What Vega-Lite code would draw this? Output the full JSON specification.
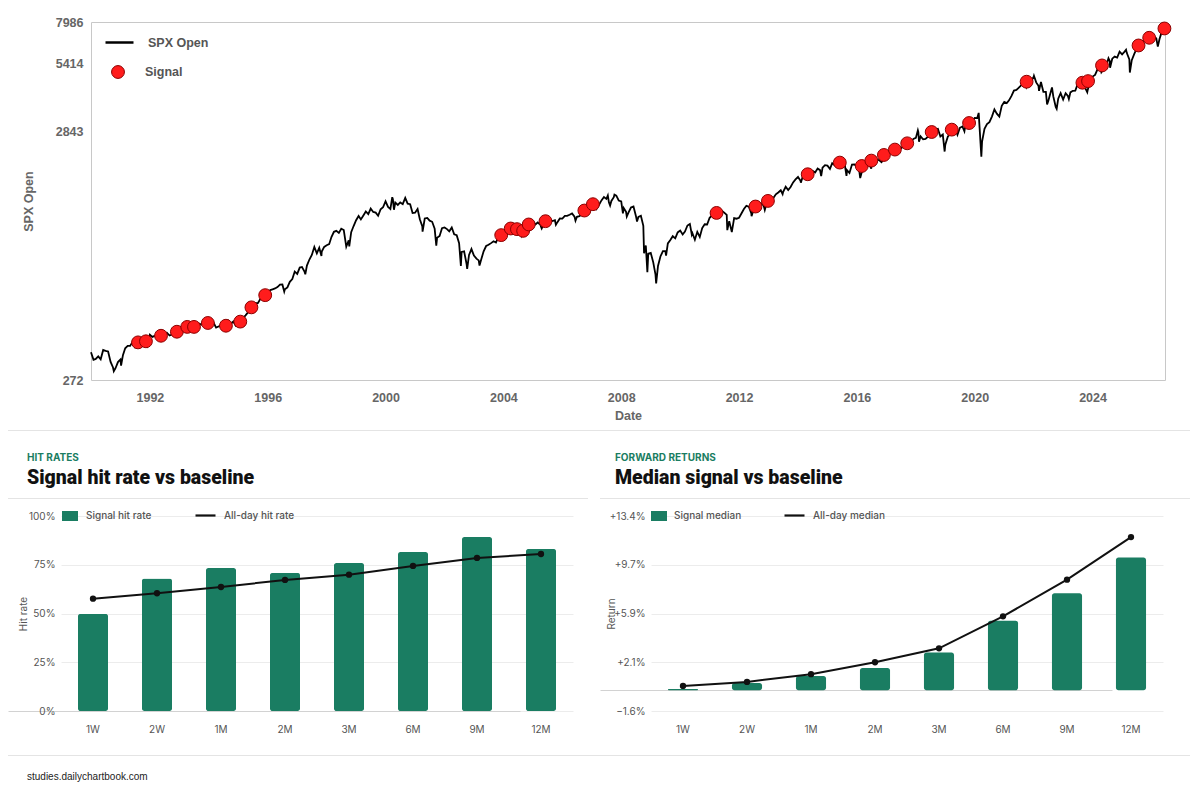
{
  "$schema": "https://vega.github.io/schema/vega-lite/v6.json",
  "background": "white",
  "padding": {"left": 8, "top": 16, "right": 10, "bottom": 8},
  "config": {
    "view": {"stroke": null},
    "font": "Inter",
    "axis": {"labelFont": "Inter", "titleFont": "Inter"},
    "legend": {"labelFont": "Inter"}
  },
  "datasets": {
    "spx": [
      {"d":"1990-01-01","v":353.4},{"d":"1990-02-01","v":329.1},{"d":"1990-03-01","v":331.9},{"d":"1990-04-01","v":339.9},{"d":"1990-05-01","v":330.8},{"d":"1990-06-01","v":361.2},{"d":"1990-07-01","v":358.0},{"d":"1990-08-01","v":356.2},{"d":"1990-09-01","v":322.6},{"d":"1990-10-01","v":306.1},{"d":"1990-10-11","v":295.5},{"d":"1990-11-01","v":304.0},{"d":"1990-12-01","v":322.2},
      {"d":"1991-01-01","v":330.2},{"d":"1991-01-09","v":311.5},{"d":"1991-02-01","v":343.9},{"d":"1991-03-01","v":367.1},{"d":"1991-04-01","v":375.2},{"d":"1991-05-01","v":375.3},{"d":"1991-06-01","v":389.8},{"d":"1991-07-01","v":371.2},{"d":"1991-08-01","v":387.8},{"d":"1991-09-01","v":395.4},{"d":"1991-10-01","v":387.9},{"d":"1991-11-01","v":392.5},{"d":"1991-12-01","v":375.2},
      {"d":"1992-01-01","v":417.1},{"d":"1992-02-01","v":408.8},{"d":"1992-03-01","v":412.7},{"d":"1992-04-01","v":403.7},{"d":"1992-05-01","v":415.0},{"d":"1992-06-01","v":415.4},{"d":"1992-07-01","v":408.1},{"d":"1992-08-01","v":424.2},{"d":"1992-09-01","v":414.0},{"d":"1992-10-01","v":417.8},{"d":"1992-11-01","v":418.7},{"d":"1992-12-01","v":431.4},
      {"d":"1993-01-01","v":435.7},{"d":"1993-02-01","v":438.8},{"d":"1993-03-01","v":443.4},{"d":"1993-04-01","v":451.7},{"d":"1993-05-01","v":440.2},{"d":"1993-06-01","v":450.2},{"d":"1993-07-01","v":450.5},{"d":"1993-08-01","v":448.1},{"d":"1993-09-01","v":463.6},{"d":"1993-10-01","v":458.9},{"d":"1993-11-01","v":467.8},{"d":"1993-12-01","v":461.8},
      {"d":"1994-01-01","v":466.5},{"d":"1994-02-01","v":481.6},{"d":"1994-03-01","v":467.1},{"d":"1994-04-01","v":445.8},{"d":"1994-05-01","v":450.9},{"d":"1994-06-01","v":456.5},{"d":"1994-07-01","v":444.3},{"d":"1994-08-01","v":458.3},{"d":"1994-09-01","v":475.5},{"d":"1994-10-01","v":462.7},{"d":"1994-11-01","v":472.4},{"d":"1994-12-01","v":453.7},
      {"d":"1995-01-01","v":459.3},{"d":"1995-02-01","v":470.4},{"d":"1995-03-01","v":487.4},{"d":"1995-04-01","v":500.7},{"d":"1995-05-01","v":514.7},{"d":"1995-06-01","v":533.4},{"d":"1995-07-01","v":544.8},{"d":"1995-08-01","v":562.1},{"d":"1995-09-01","v":561.9},{"d":"1995-10-01","v":584.4},{"d":"1995-11-01","v":581.5},{"d":"1995-12-01","v":605.4},
      {"d":"1996-01-01","v":615.9},{"d":"1996-02-01","v":636.0},{"d":"1996-03-01","v":640.4},{"d":"1996-04-01","v":645.5},{"d":"1996-05-01","v":654.2},{"d":"1996-06-01","v":669.1},{"d":"1996-07-01","v":670.6},{"d":"1996-07-24","v":626.7},{"d":"1996-08-01","v":640.0},{"d":"1996-09-01","v":652.0},{"d":"1996-10-01","v":687.3},{"d":"1996-11-01","v":705.3},{"d":"1996-12-01","v":757.0},
      {"d":"1997-01-01","v":740.7},{"d":"1997-02-01","v":786.2},{"d":"1997-03-01","v":790.8},{"d":"1997-04-01","v":757.1},{"d":"1997-04-11","v":737.7},{"d":"1997-05-01","v":801.3},{"d":"1997-06-01","v":848.3},{"d":"1997-07-01","v":885.1},{"d":"1997-08-01","v":954.3},{"d":"1997-09-01","v":899.5},{"d":"1997-10-01","v":947.3},{"d":"1997-10-28","v":876.9},{"d":"1997-11-01","v":914.6},{"d":"1997-12-01","v":955.4},
      {"d":"1998-01-01","v":970.4},{"d":"1998-02-01","v":980.3},{"d":"1998-03-01","v":1049.3},{"d":"1998-04-01","v":1101.8},{"d":"1998-05-01","v":1111.8},{"d":"1998-06-01","v":1090.8},{"d":"1998-07-01","v":1133.8},{"d":"1998-08-01","v":1120.7},{"d":"1998-09-01","v":957.3},{"d":"1998-10-01","v":1017.0},{"d":"1998-10-08","v":959.4},{"d":"1998-11-01","v":1098.7},{"d":"1998-12-01","v":1163.6},
      {"d":"1999-01-01","v":1229.2},{"d":"1999-02-01","v":1279.6},{"d":"1999-03-01","v":1238.3},{"d":"1999-04-01","v":1286.4},{"d":"1999-05-01","v":1335.2},{"d":"1999-06-01","v":1301.8},{"d":"1999-07-01","v":1372.7},{"d":"1999-08-01","v":1328.7},{"d":"1999-09-01","v":1320.4},{"d":"1999-10-01","v":1282.7},{"d":"1999-11-01","v":1362.9},{"d":"1999-12-01","v":1388.9},
      {"d":"2000-01-01","v":1469.3},{"d":"2000-02-01","v":1394.5},{"d":"2000-03-01","v":1366.4},{"d":"2000-03-24","v":1527.5},{"d":"2000-04-01","v":1498.6},{"d":"2000-04-14","v":1356.6},{"d":"2000-05-01","v":1452.4},{"d":"2000-06-01","v":1420.6},{"d":"2000-07-01","v":1454.6},{"d":"2000-08-01","v":1430.8},{"d":"2000-09-01","v":1517.7},{"d":"2000-10-01","v":1436.5},{"d":"2000-11-01","v":1429.4},{"d":"2000-12-01","v":1315.0},
      {"d":"2001-01-01","v":1320.3},{"d":"2001-02-01","v":1366.0},{"d":"2001-03-01","v":1239.9},{"d":"2001-04-01","v":1160.3},{"d":"2001-04-04","v":1103.3},{"d":"2001-05-01","v":1249.5},{"d":"2001-06-01","v":1255.8},{"d":"2001-07-01","v":1224.4},{"d":"2001-08-01","v":1211.2},{"d":"2001-09-01","v":1133.6},{"d":"2001-09-21","v":965.8},{"d":"2001-10-01","v":1040.9},{"d":"2001-11-01","v":1059.8},{"d":"2001-12-01","v":1139.5},
      {"d":"2002-01-01","v":1148.1},{"d":"2002-02-01","v":1130.2},{"d":"2002-03-01","v":1106.7},{"d":"2002-04-01","v":1147.4},{"d":"2002-05-01","v":1076.9},{"d":"2002-06-01","v":1067.1},{"d":"2002-07-01","v":989.8},{"d":"2002-07-23","v":797.7},{"d":"2002-08-01","v":911.6},{"d":"2002-09-01","v":916.1},{"d":"2002-10-01","v":815.3},{"d":"2002-10-09","v":776.8},{"d":"2002-11-01","v":885.8},{"d":"2002-12-01","v":936.3},
      {"d":"2003-01-01","v":879.8},{"d":"2003-02-01","v":855.7},{"d":"2003-03-01","v":841.2},{"d":"2003-03-11","v":800.7},{"d":"2003-04-01","v":848.2},{"d":"2003-05-01","v":916.9},{"d":"2003-06-01","v":963.6},{"d":"2003-07-01","v":974.5},{"d":"2003-08-01","v":990.3},{"d":"2003-09-01","v":1008.0},{"d":"2003-10-01","v":996.0},{"d":"2003-11-01","v":1050.7},{"d":"2003-12-01","v":1058.2},
      {"d":"2004-01-01","v":1111.9},{"d":"2004-02-01","v":1131.1},{"d":"2004-03-01","v":1144.9},{"d":"2004-04-01","v":1126.2},{"d":"2004-05-01","v":1107.3},{"d":"2004-06-01","v":1120.7},{"d":"2004-07-01","v":1140.8},{"d":"2004-08-01","v":1101.7},{"d":"2004-08-12","v":1063.2},{"d":"2004-09-01","v":1104.2},{"d":"2004-10-01","v":1114.6},{"d":"2004-11-01","v":1130.2},{"d":"2004-12-01","v":1173.8},
      {"d":"2005-01-01","v":1211.9},{"d":"2005-02-01","v":1181.3},{"d":"2005-03-01","v":1203.6},{"d":"2005-04-01","v":1180.6},{"d":"2005-04-20","v":1137.5},{"d":"2005-05-01","v":1156.9},{"d":"2005-06-01","v":1191.5},{"d":"2005-07-01","v":1191.3},{"d":"2005-08-01","v":1234.2},{"d":"2005-09-01","v":1220.3},{"d":"2005-10-01","v":1228.8},{"d":"2005-10-13","v":1176.8},{"d":"2005-11-01","v":1207.0},{"d":"2005-12-01","v":1249.5},
      {"d":"2006-01-01","v":1248.3},{"d":"2006-02-01","v":1280.1},{"d":"2006-03-01","v":1280.7},{"d":"2006-04-01","v":1294.8},{"d":"2006-05-01","v":1310.6},{"d":"2006-06-01","v":1270.1},{"d":"2006-06-13","v":1223.7},{"d":"2006-07-01","v":1270.2},{"d":"2006-08-01","v":1276.7},{"d":"2006-09-01","v":1303.8},{"d":"2006-10-01","v":1335.9},{"d":"2006-11-01","v":1377.9},{"d":"2006-12-01","v":1400.6},
      {"d":"2007-01-01","v":1418.3},{"d":"2007-02-01","v":1438.2},{"d":"2007-03-01","v":1406.8},{"d":"2007-03-05","v":1374.1},{"d":"2007-04-01","v":1420.9},{"d":"2007-05-01","v":1482.4},{"d":"2007-06-01","v":1530.6},{"d":"2007-07-01","v":1503.4},{"d":"2007-07-19","v":1553.1},{"d":"2007-08-01","v":1455.3},{"d":"2007-08-16","v":1411.3},{"d":"2007-09-01","v":1474.0},{"d":"2007-10-01","v":1526.8},{"d":"2007-10-09","v":1565.2},{"d":"2007-11-01","v":1549.4},{"d":"2007-12-01","v":1481.1},
      {"d":"2008-01-01","v":1468.4},{"d":"2008-01-22","v":1310.5},{"d":"2008-02-01","v":1378.6},{"d":"2008-03-01","v":1330.6},{"d":"2008-03-10","v":1273.4},{"d":"2008-04-01","v":1322.7},{"d":"2008-05-01","v":1385.6},{"d":"2008-06-01","v":1400.4},{"d":"2008-07-01","v":1280.0},{"d":"2008-07-15","v":1214.9},{"d":"2008-08-01","v":1267.4},{"d":"2008-09-01","v":1282.8},{"d":"2008-10-01","v":1166.4},{"d":"2008-10-10","v":899.2},{"d":"2008-11-01","v":968.8},{"d":"2008-11-20","v":752.4},{"d":"2008-12-01","v":896.2},
      {"d":"2009-01-01","v":903.3},{"d":"2009-02-01","v":825.9},{"d":"2009-03-01","v":735.1},{"d":"2009-03-09","v":676.5},{"d":"2009-04-01","v":797.9},{"d":"2009-05-01","v":872.8},{"d":"2009-06-01","v":919.1},{"d":"2009-07-01","v":919.3},{"d":"2009-07-10","v":879.1},{"d":"2009-08-01","v":987.5},{"d":"2009-09-01","v":1020.6},{"d":"2009-10-01","v":1057.1},{"d":"2009-11-01","v":1036.2},{"d":"2009-12-01","v":1095.6},
      {"d":"2010-01-01","v":1115.1},{"d":"2010-02-01","v":1073.9},{"d":"2010-03-01","v":1104.5},{"d":"2010-04-01","v":1169.4},{"d":"2010-05-01","v":1186.7},{"d":"2010-05-25","v":1074.0},{"d":"2010-06-01","v":1089.4},{"d":"2010-07-02","v":1022.6},{"d":"2010-08-01","v":1101.6},{"d":"2010-09-01","v":1049.3},{"d":"2010-10-01","v":1141.2},{"d":"2010-11-01","v":1183.3},{"d":"2010-12-01","v":1180.6},
      {"d":"2011-01-01","v":1257.6},{"d":"2011-02-01","v":1286.1},{"d":"2011-03-01","v":1327.2},{"d":"2011-03-16","v":1256.9},{"d":"2011-04-01","v":1325.8},{"d":"2011-05-01","v":1363.6},{"d":"2011-06-01","v":1345.2},{"d":"2011-07-01","v":1320.6},{"d":"2011-08-01","v":1292.3},{"d":"2011-08-08","v":1119.5},{"d":"2011-09-01","v":1218.9},{"d":"2011-10-03","v":1099.2},{"d":"2011-11-01","v":1253.3},{"d":"2011-12-01","v":1247.0},
      {"d":"2012-01-01","v":1257.6},{"d":"2012-02-01","v":1312.4},{"d":"2012-03-01","v":1365.7},{"d":"2012-04-01","v":1408.5},{"d":"2012-05-01","v":1397.9},{"d":"2012-06-01","v":1310.3},{"d":"2012-06-04","v":1278.0},{"d":"2012-07-01","v":1362.2},{"d":"2012-08-01","v":1379.3},{"d":"2012-09-01","v":1406.6},{"d":"2012-10-01","v":1440.7},{"d":"2012-11-01","v":1412.2},{"d":"2012-11-15","v":1353.3},{"d":"2012-12-01","v":1416.2},
      {"d":"2013-01-01","v":1426.2},{"d":"2013-02-01","v":1498.1},{"d":"2013-03-01","v":1514.7},{"d":"2013-04-01","v":1569.2},{"d":"2013-05-01","v":1597.6},{"d":"2013-06-01","v":1630.7},{"d":"2013-06-24","v":1573.1},{"d":"2013-07-01","v":1606.3},{"d":"2013-08-01","v":1685.7},{"d":"2013-09-01","v":1633.0},{"d":"2013-10-01","v":1681.6},{"d":"2013-11-01","v":1756.5},{"d":"2013-12-01","v":1805.8},
      {"d":"2014-01-01","v":1848.4},{"d":"2014-02-01","v":1782.6},{"d":"2014-02-05","v":1751.6},{"d":"2014-03-01","v":1859.5},{"d":"2014-04-01","v":1872.3},{"d":"2014-05-01","v":1884.0},{"d":"2014-06-01","v":1923.6},{"d":"2014-07-01","v":1960.2},{"d":"2014-08-01","v":1930.7},{"d":"2014-09-01","v":2003.4},{"d":"2014-10-01","v":1972.3},{"d":"2014-10-15","v":1862.5},{"d":"2014-11-01","v":2018.1},{"d":"2014-12-01","v":2067.6},
      {"d":"2015-01-01","v":2058.9},{"d":"2015-02-01","v":1995.0},{"d":"2015-03-01","v":2104.5},{"d":"2015-04-01","v":2067.9},{"d":"2015-05-01","v":2085.5},{"d":"2015-06-01","v":2107.4},{"d":"2015-07-01","v":2063.1},{"d":"2015-08-01","v":2103.8},{"d":"2015-08-25","v":1867.1},{"d":"2015-09-01","v":1972.2},{"d":"2015-10-01","v":1920.0},{"d":"2015-11-01","v":2079.4},{"d":"2015-12-01","v":2080.4},
      {"d":"2016-01-01","v":2043.9},{"d":"2016-02-01","v":1940.2},{"d":"2016-02-11","v":1829.1},{"d":"2016-03-01","v":1932.2},{"d":"2016-04-01","v":2059.7},{"d":"2016-05-01","v":2065.3},{"d":"2016-06-01","v":2097.0},{"d":"2016-06-27","v":2000.5},{"d":"2016-07-01","v":2098.9},{"d":"2016-08-01","v":2173.6},{"d":"2016-09-01","v":2171.0},{"d":"2016-10-01","v":2168.3},{"d":"2016-11-01","v":2126.2},{"d":"2016-12-01","v":2198.8},
      {"d":"2017-01-01","v":2238.8},{"d":"2017-02-01","v":2278.9},{"d":"2017-03-01","v":2363.6},{"d":"2017-04-01","v":2362.7},{"d":"2017-05-01","v":2384.2},{"d":"2017-06-01","v":2411.8},{"d":"2017-07-01","v":2423.4},{"d":"2017-08-01","v":2470.3},{"d":"2017-09-01","v":2471.7},{"d":"2017-10-01","v":2519.4},{"d":"2017-11-01","v":2575.3},{"d":"2017-12-01","v":2647.6},
      {"d":"2018-01-01","v":2673.6},{"d":"2018-01-26","v":2872.9},{"d":"2018-02-01","v":2823.8},{"d":"2018-02-09","v":2581.0},{"d":"2018-03-01","v":2713.8},{"d":"2018-04-01","v":2640.9},{"d":"2018-05-01","v":2648.1},{"d":"2018-06-01","v":2705.3},{"d":"2018-07-01","v":2718.4},{"d":"2018-08-01","v":2816.3},{"d":"2018-09-01","v":2901.5},{"d":"2018-10-01","v":2914.0},{"d":"2018-11-01","v":2711.7},{"d":"2018-12-01","v":2760.2},{"d":"2018-12-24","v":2351.1},
      {"d":"2019-01-01","v":2506.9},{"d":"2019-02-01","v":2704.1},{"d":"2019-03-01","v":2784.5},{"d":"2019-04-01","v":2834.4},{"d":"2019-05-01","v":2945.8},{"d":"2019-06-01","v":2752.1},{"d":"2019-07-01","v":2941.8},{"d":"2019-08-01","v":2980.4},{"d":"2019-08-26","v":2847.1},{"d":"2019-09-01","v":2926.5},{"d":"2019-10-01","v":2976.7},{"d":"2019-11-01","v":3037.6},{"d":"2019-12-01","v":3141.0},
      {"d":"2020-01-01","v":3230.8},{"d":"2020-02-01","v":3225.5},{"d":"2020-02-19","v":3386.2},{"d":"2020-03-01","v":2954.2},{"d":"2020-03-23","v":2237.4},{"d":"2020-04-01","v":2584.6},{"d":"2020-05-01","v":2912.4},{"d":"2020-06-01","v":3044.3},{"d":"2020-07-01","v":3100.3},{"d":"2020-08-01","v":3271.1},{"d":"2020-09-01","v":3500.3},{"d":"2020-10-01","v":3363.0},{"d":"2020-11-01","v":3270.0},{"d":"2020-12-01","v":3621.6},
      {"d":"2021-01-01","v":3756.1},{"d":"2021-02-01","v":3714.2},{"d":"2021-03-01","v":3811.2},{"d":"2021-04-01","v":3972.9},{"d":"2021-05-01","v":4181.2},{"d":"2021-06-01","v":4204.1},{"d":"2021-07-01","v":4297.5},{"d":"2021-08-01","v":4395.3},{"d":"2021-09-01","v":4522.7},{"d":"2021-10-01","v":4307.5},{"d":"2021-11-01","v":4605.4},{"d":"2021-12-01","v":4567.0},
      {"d":"2022-01-01","v":4766.2},{"d":"2022-01-04","v":4804.5},{"d":"2022-02-01","v":4515.6},{"d":"2022-03-01","v":4373.9},{"d":"2022-03-08","v":4170.7},{"d":"2022-04-01","v":4530.4},{"d":"2022-05-01","v":4131.9},{"d":"2022-06-01","v":4132.2},{"d":"2022-06-16","v":3666.8},{"d":"2022-07-01","v":3785.4},{"d":"2022-08-01","v":4130.3},{"d":"2022-08-16","v":4305.2},{"d":"2022-09-01","v":3955.0},{"d":"2022-10-01","v":3585.6},{"d":"2022-10-13","v":3520.4},{"d":"2022-11-01","v":3872.0},{"d":"2022-12-01","v":4080.1},
      {"d":"2023-01-01","v":3839.5},{"d":"2023-02-01","v":4076.6},{"d":"2023-03-01","v":3970.2},{"d":"2023-03-13","v":3855.8},{"d":"2023-04-01","v":4109.3},{"d":"2023-05-01","v":4169.5},{"d":"2023-06-01","v":4179.8},{"d":"2023-07-01","v":4450.4},{"d":"2023-08-01","v":4589.0},{"d":"2023-09-01","v":4507.7},{"d":"2023-10-01","v":4288.1},{"d":"2023-10-27","v":4117.4},{"d":"2023-11-01","v":4193.8},{"d":"2023-12-01","v":4567.8},
      {"d":"2024-01-01","v":4769.8},{"d":"2024-02-01","v":4845.7},{"d":"2024-03-01","v":5096.3},{"d":"2024-04-01","v":5254.4},{"d":"2024-04-19","v":4967.2},{"d":"2024-05-01","v":5035.7},{"d":"2024-06-01","v":5277.5},{"d":"2024-07-01","v":5460.5},{"d":"2024-07-16","v":5667.2},{"d":"2024-08-01","v":5522.3},{"d":"2024-08-05","v":5186.3},{"d":"2024-09-01","v":5648.4},{"d":"2024-10-01","v":5762.5},{"d":"2024-11-01","v":5705.5},{"d":"2024-12-01","v":6032.4},
      {"d":"2025-01-01","v":5881.6},{"d":"2025-02-01","v":6040.5},{"d":"2025-02-19","v":6144.2},{"d":"2025-03-01","v":5954.5},{"d":"2025-04-01","v":5611.9},{"d":"2025-04-07","v":4953.8},{"d":"2025-05-01","v":5569.1},{"d":"2025-06-01","v":5911.7},{"d":"2025-07-01","v":6205.0},{"d":"2025-08-01","v":6339.4},{"d":"2025-09-01","v":6460.3},{"d":"2025-10-01","v":6688.5},{"d":"2025-11-01","v":6840.2},{"d":"2025-11-20","v":6538.8},{"d":"2025-12-01","v":6849.1},
      {"d":"2026-01-01","v":6845.5},{"d":"2026-02-01","v":6930.0},{"d":"2026-03-01","v":6850.0},{"d":"2026-03-20","v":6330.0},{"d":"2026-04-10","v":6800.0},{"d":"2026-05-01","v":7150.0},{"d":"2026-05-25","v":7400.0},{"d":"2026-06-10","v":7513.0},{"d":"2026-06-16","v":7580.0}
    ],
    "signals": [
      {"d":"1991-08-07","v":388},{"d":"1991-11-13","v":392},{"d":"1992-05-18","v":413},{"d":"1992-12-01","v":429},{"d":"1993-04-08","v":449},{"d":"1993-07-01","v":449},{"d":"1993-12-20","v":466},{"d":"1994-08-01","v":454},{"d":"1995-01-26","v":472},{"d":"1995-06-13","v":540},{"d":"1995-12-01","v":606},
      {"d":"2003-12-05","v":1068},{"d":"2004-04-01","v":1137},{"d":"2004-06-17","v":1130},{"d":"2004-09-02","v":1112},{"d":"2004-11-10","v":1181},{"d":"2005-06-06","v":1218},{"d":"2006-10-01","v":1347},{"d":"2007-01-15","v":1430},
      {"d":"2011-03-28","v":1317},{"d":"2012-07-23","v":1399},{"d":"2012-12-24","v":1475},{"d":"2014-05-01","v":1897},{"d":"2015-06-03","v":2118},{"d":"2016-03-01","v":2051},{"d":"2016-06-28","v":2158},{"d":"2016-12-01","v":2276},{"d":"2017-04-16","v":2395},{"d":"2017-09-16","v":2541},{"d":"2018-07-16","v":2827},{"d":"2019-03-22","v":2891},{"d":"2019-10-23","v":3077},
      {"d":"2021-10-05","v":4545},{"d":"2023-08-28","v":4502},{"d":"2023-11-06","v":4571},{"d":"2024-04-27","v":5299},{"d":"2025-07-24","v":6399},{"d":"2025-12-03","v":6881},{"d":"2026-06-10","v":7513}
    ],
    "hit": [
      {"h":"1W","sig":49.8,"all":57.6},{"h":"2W","sig":68.0,"all":60.4},{"h":"1M","sig":73.3,"all":63.6},{"h":"2M","sig":70.8,"all":67.2},
      {"h":"3M","sig":75.9,"all":69.9},{"h":"6M","sig":81.5,"all":74.4},{"h":"9M","sig":89.2,"all":78.5},{"h":"12M","sig":83.1,"all":80.5}
    ],
    "ret": [
      {"h":"1W","sig":0.1,"all":0.33},{"h":"2W","sig":0.55,"all":0.64},{"h":"1M","sig":1.1,"all":1.23},{"h":"2M","sig":1.7,"all":2.15},
      {"h":"3M","sig":2.9,"all":3.22},{"h":"6M","sig":5.35,"all":5.68},{"h":"9M","sig":7.45,"all":8.5},{"h":"12M","sig":10.2,"all":11.78}
    ]
  },
  "resolve": {"scale": {"fill": "independent", "stroke": "independent"}, "legend": {"fill": "independent", "stroke": "independent"}},
  "spacing": 2,
  "vconcat": [
    {
      "width": 1157,
      "height": 358,
      "resolve": {"axis": {"x": "independent", "y": "independent"}},
      "encoding": {
        "x": {"field": "d", "type": "temporal",
          "scale": {"domain": [{"year": 1990, "month": 1, "date": 1}, {"year": 2026, "month": 6, "date": 17}], "nice": false, "range": [83, 1157]}},
        "y": {"field": "v", "type": "quantitative",
          "scale": {"type": "log", "domain": [272, 7986], "nice": false, "zero": false}}
      },
      "layer": [
        {
          "data": {"name": "spx"},
          "mark": {"type": "line", "strokeWidth": 1.8},
          "encoding": {
            "x": {"field": "d", "type": "temporal",
              "axis": {"values": [{"year":1992,"month":1,"date":1},{"year":1996,"month":1,"date":1},{"year":2000,"month":1,"date":1},{"year":2004,"month":1,"date":1},{"year":2008,"month":1,"date":1},{"year":2012,"month":1,"date":1},{"year":2016,"month":1,"date":1},{"year":2020,"month":1,"date":1},{"year":2024,"month":1,"date":1}],
                "format": "%Y", "grid": false, "domain": true, "domainColor": "#c8c8c8", "ticks": false, "labelPadding": 11,
                "labelFont": "Liberation Sans", "labelFontWeight": "bold", "labelFontSize": 12.5, "labelColor": "#666666",
                "title": "Date", "titleFont": "Liberation Sans", "titleFontWeight": "bold", "titleFontSize": 12.5, "titleColor": "#666666", "titlePadding": 6}},
            "y": {"field": "v", "type": "quantitative",
              "axis": {"values": [272, 2843, 5414, 7986], "format": "d", "grid": false, "domain": true, "domainColor": "#c8c8c8", "ticks": false, "labelPadding": 8, "offset": -83,
                "labelFont": "Liberation Sans", "labelFontWeight": "bold", "labelFontSize": 12.5, "labelColor": "#666666",
                "title": "SPX Open", "titleFont": "Liberation Sans", "titleFontWeight": "bold", "titleFontSize": 12.5, "titleColor": "#666666",
                "titleX": -63, "titleBaseline": "middle"}},
            "stroke": {"datum": "SPX Open", "type": "nominal", "scale": {"range": ["#000000"]},
              "legend": {"orient": "none", "legendX": 96, "legendY": 5, "title": null, "symbolType": "stroke", "symbolSize": 784, "symbolStrokeWidth": 2.5,
                "labelFont": "Liberation Sans", "labelFontWeight": "bold", "labelFontSize": 12.5, "labelColor": "#555555", "labelOffset": 13}}
          }
        },
        {
          "data": {"name": "signals"},
          "mark": {"type": "point", "filled": true, "size": 165, "stroke": "#8b0000", "strokeWidth": 1, "opacity": 1},
          "encoding": {
            "x": {"field": "d", "type": "temporal",
              "axis": {"orient": "top", "labels": false, "ticks": false, "grid": false, "domain": true, "domainColor": "#c8c8c8", "title": null}},
            "y": {"field": "v", "type": "quantitative",
              "axis": {"orient": "right", "labels": false, "ticks": false, "grid": false, "domain": true, "domainColor": "#c8c8c8", "title": null}},
            "fill": {"datum": "Signal", "type": "nominal", "scale": {"range": ["#ff1c1c"]},
              "legend": {"orient": "none", "legendX": 103, "legendY": 43, "title": null, "symbolType": "circle", "symbolSize": 165, "symbolStrokeColor": "#8b0000", "symbolStrokeWidth": 1, "symbolOpacity": 1,
                "labelFont": "Liberation Sans", "labelFontWeight": "bold", "labelFontSize": 12.5, "labelColor": "#555555", "labelOffset": 20}}
          }
        }
      ]
    },
    {
      "resolve": {"scale": {"fill": "independent", "stroke": "independent"}, "legend": {"fill": "independent", "stroke": "independent"}},
      "spacing": 17,
      "vconcat": [
        {
          "width": 1182, "height": 1,
          "view": {"fill": "#e4e4e4", "stroke": null},
          "data": {"values": [{}]},
          "mark": {"type": "text", "text": ""}
        },
        {
          "resolve": {"scale": {"fill": "independent", "stroke": "independent"}, "legend": {"fill": "independent", "stroke": "independent"}},
          "spacing": 15,
          "vconcat": [
            {
              "resolve": {"scale": {"fill": "independent", "stroke": "independent"}, "legend": {"fill": "independent", "stroke": "independent"}},
              "spacing": 12,
              "hconcat": [
                {
                  "resolve": {"scale": {"fill": "independent", "stroke": "independent"}, "legend": {"fill": "independent", "stroke": "independent"}},
                  "spacing": 0,
                  "vconcat": [
                    {
                      "width": 580, "height": 1,
                      "view": {"fill": "#e4e4e4", "stroke": null},
                      "title": {"text": "HIT RATES", "subtitle": "Signal hit rate vs baseline", "anchor": "start", "dx": 19, "offset": 5,
                        "font": "Inter", "fontSize": 10, "fontWeight": "bold", "color": "#1a7d62",
                        "subtitleFont": "Roboto", "subtitleFontSize": 19.5, "subtitleFontWeight": 900, "subtitleColor": "#111111", "subtitlePadding": 6},
                      "data": {"values": [{}]},
                      "mark": {"type": "text", "text": ""}
                    },
                    {
                      "width": 565, "height": 195,
                      "data": {"name": "hit"},
                      "resolve": {"axis": {"y": "independent"}},
                      "encoding": {
                        "x": {"field": "h", "type": "nominal", "sort": ["1W","2W","1M","2M","3M","6M","9M","12M"],
                          "scale": {"paddingInner": 0.53, "paddingOuter": 0.265, "range": [53, 565]},
                          "axis": {"title": null, "labelAngle": 0, "domain": false, "ticks": false, "labelPadding": 13, "labelFontSize": 10, "labelColor": "#555555"}}
                      },
                      "layer": [
                        {
                          "mark": {"type": "bar", "cornerRadius": 2.5},
                          "encoding": {
                            "y": {"field": "sig", "type": "quantitative", "scale": {"domain": [0, 100], "nice": false},
                              "axis": {"values": [0, 25, 50, 75, 100], "labelExpr": "datum.value + '%'", "title": "Hit rate", "titleFontSize": 10, "titleFontWeight": "normal", "titleColor": "#555555",
                                "offset": -53, "titleX": -38, "titleBaseline": "middle", "grid": true, "gridColor": "#ececec", "domain": false, "ticks": false, "labelPadding": 6, "labelFontSize": 10, "labelColor": "#555555"}},
                            "fill": {"datum": "Signal hit rate", "type": "nominal", "scale": {"range": ["#1a7d62"]},
                              "legend": {"orient": "none", "legendX": 54, "legendY": -8, "title": null, "symbolType": "M-1,-0.625H1V0.625H-1Z", "symbolSize": 256, "symbolStrokeWidth": 0,
                                "labelFontSize": 10, "labelFontWeight": 500, "labelColor": "#555555", "labelOffset": 8}}
                          }
                        },
                        {
                          "mark": {"type": "line", "strokeWidth": 2},
                          "encoding": {
                            "y": {"field": "all", "type": "quantitative",
                              "axis": {"orient": "right", "values": [0], "grid": true, "gridColor": "#d2d2d2", "labels": false, "ticks": false, "domain": false, "title": null}},
                            "stroke": {"datum": "All-day hit rate", "type": "nominal", "scale": {"range": ["#111111"]},
                              "legend": {"orient": "none", "legendX": 186, "legendY": -12, "title": null, "symbolType": "stroke", "symbolSize": 400, "symbolStrokeWidth": 2.2,
                                "labelFontSize": 10, "labelFontWeight": 500, "labelColor": "#555555", "labelOffset": 7}}
                          }
                        },
                        {
                          "mark": {"type": "point", "filled": true, "size": 40, "color": "#111111", "opacity": 1},
                          "encoding": {"y": {"field": "all", "type": "quantitative", "axis": null}}
                        }
                      ]
                    }
                  ]
                },
                {
                  "resolve": {"scale": {"fill": "independent", "stroke": "independent"}, "legend": {"fill": "independent", "stroke": "independent"}},
                  "spacing": 0,
                  "vconcat": [
                    {
                      "width": 590, "height": 1,
                      "view": {"fill": "#e4e4e4", "stroke": null},
                      "title": {"text": "FORWARD RETURNS", "subtitle": "Median signal vs baseline", "anchor": "start", "dx": 15, "offset": 5,
                        "font": "Inter", "fontSize": 10, "fontWeight": "bold", "color": "#1a7d62",
                        "subtitleFont": "Roboto", "subtitleFontSize": 19.5, "subtitleFontWeight": 900, "subtitleColor": "#111111", "subtitlePadding": 6},
                      "data": {"values": [{}]},
                      "mark": {"type": "text", "text": ""}
                    },
                    {
                      "width": 563, "height": 195,
                      "data": {"name": "ret"},
                      "resolve": {"axis": {"y": "independent"}},
                      "encoding": {
                        "x": {"field": "h", "type": "nominal", "sort": ["1W","2W","1M","2M","3M","6M","9M","12M"],
                          "scale": {"paddingInner": 0.53, "paddingOuter": 0.265, "range": [51, 563]},
                          "axis": {"title": null, "labelAngle": 0, "domain": false, "ticks": false, "labelPadding": 13, "labelFontSize": 10, "labelColor": "#555555"}}
                      },
                      "layer": [
                        {
                          "mark": {"type": "bar", "cornerRadius": 2.5},
                          "encoding": {
                            "y": {"field": "sig", "type": "quantitative", "scale": {"domain": [-1.6, 13.4], "nice": false, "zero": false},
                              "axis": {"values": [-1.6, 2.15, 5.9, 9.65, 13.4], "labelExpr": "(datum.value > 0 ? '+' : '') + format(datum.value, '.1f') + '%'", "title": "Return", "titleFontSize": 10, "titleFontWeight": "normal", "titleColor": "#555555",
                                "offset": -51, "titleX": -40, "titleBaseline": "middle", "grid": true, "gridColor": "#ececec", "domain": false, "ticks": false, "labelPadding": 6, "labelFontSize": 10, "labelColor": "#555555"}},
                            "y2": {"datum": 0},
                            "fill": {"datum": "Signal median", "type": "nominal", "scale": {"range": ["#1a7d62"]},
                              "legend": {"orient": "none", "legendX": 51, "legendY": -8, "title": null, "symbolType": "M-1,-0.625H1V0.625H-1Z", "symbolSize": 256, "symbolStrokeWidth": 0,
                                "labelFontSize": 10, "labelFontWeight": 500, "labelColor": "#555555", "labelOffset": 7}}
                          }
                        },
                        {
                          "mark": {"type": "line", "strokeWidth": 2},
                          "encoding": {
                            "y": {"field": "all", "type": "quantitative",
                              "axis": {"orient": "right", "values": [0], "grid": true, "gridColor": "#d2d2d2", "labels": false, "ticks": false, "domain": false, "title": null}},
                            "stroke": {"datum": "All-day median", "type": "nominal", "scale": {"range": ["#111111"]},
                              "legend": {"orient": "none", "legendX": 183, "legendY": -12, "title": null, "symbolType": "stroke", "symbolSize": 400, "symbolStrokeWidth": 2.2,
                                "labelFontSize": 10, "labelFontWeight": 500, "labelColor": "#555555", "labelOffset": 7}}
                          }
                        },
                        {
                          "mark": {"type": "point", "filled": true, "size": 40, "color": "#111111", "opacity": 1},
                          "encoding": {"y": {"field": "all", "type": "quantitative", "axis": null}}
                        }
                      ]
                    }
                  ]
                }
              ]
            },
            {
              "width": 1182, "height": 1,
              "view": {"fill": "#e4e4e4", "stroke": null},
              "title": {"text": "studies.dailychartbook.com", "orient": "bottom", "anchor": "start", "dx": 19, "offset": 11,
                "font": "Liberation Sans", "fontSize": 10, "fontWeight": "normal", "color": "#222222"},
              "data": {"values": [{}]},
              "mark": {"type": "text", "text": ""}
            }
          ]
        }
      ]
    }
  ]
}
